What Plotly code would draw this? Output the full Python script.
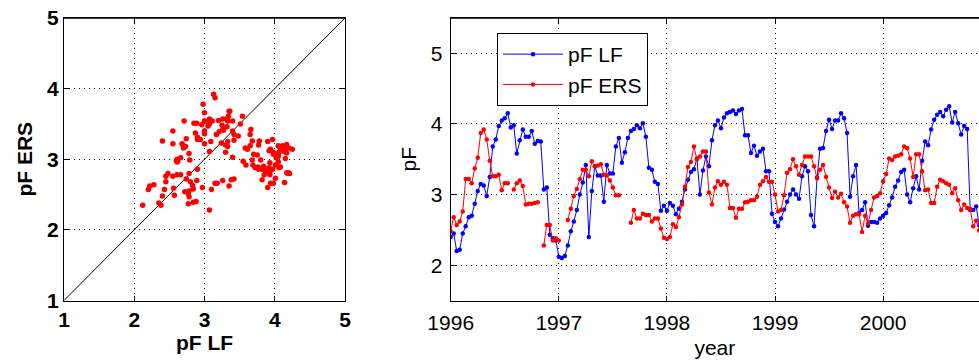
import plotly.graph_objects as go

# dekadal samples (36 per year) starting at 1996.0
start_year = 1996
steps_per_year = 36

pf_lf = [
    2.40, 2.45, 2.20, 2.22, 2.45, 2.55, 2.68, 2.70, 2.87, 3.05,
    3.15, 3.13, 2.98, 3.25, 3.68, 3.78, 3.97, 4.05, 4.08, 4.15,
    3.95, 3.98, 3.58, 3.77, 3.92, 3.82, 3.82, 3.90, 3.72, 3.76,
    3.75, 3.07, 3.10, 2.43, 2.38, 2.35, 2.12, 2.10, 2.13, 2.28,
    2.48, 2.62, 2.78, 3.00, 3.17, 3.42, 2.40, 3.05, 3.40, 3.27,
    3.27, 2.90, 3.42, 3.30, 3.30, 3.68, 3.80, 3.45, 3.60, 3.80,
    3.90, 3.93, 3.98, 3.94, 4.01, 3.82, 3.38, 3.35, 3.18, 3.15,
    2.77, 2.84, 2.77, 2.88, 2.84, 2.72, 2.80, 2.90, 3.07, 3.21,
    3.32, 3.36, 3.51, 3.00, 3.34, 3.54, 3.40, 3.77, 3.98, 4.05,
    3.94, 4.09, 4.15, 4.17, 4.19, 4.14, 4.19, 4.21, 3.84, 3.84,
    3.59, 3.69, 3.55, 3.61, 3.65, 3.33, 3.33, 2.73, 2.61, 2.55,
    2.66, 2.79, 2.90, 3.00, 3.07, 3.00, 2.94, 3.26, 3.40, 3.33,
    2.71, 2.55, 3.24, 3.65, 3.66, 3.90, 4.06, 3.93, 4.05, 4.05,
    4.15, 4.08, 3.87, 2.97, 3.26, 3.42, 2.74, 2.78, 2.89, 2.56,
    2.61, 2.61, 2.60, 2.66, 2.70, 2.74, 2.85, 2.96, 3.11, 3.20,
    3.32, 3.35, 3.00, 2.89, 3.09, 3.26, 3.07, 3.48, 3.75, 3.70,
    3.92, 4.06, 4.13, 4.17, 4.11, 4.20, 4.25, 4.02, 4.17, 4.01,
    3.85, 3.97, 3.93, 2.78, 2.78, 2.83, 2.57,
]

pf_ers = [
    2.48, 2.68, 2.57, 2.62, 2.76, 3.22, 3.22, 3.16, 3.37, 3.52,
    3.87, 3.92, 3.78, 3.48, 3.26, 3.26, 3.28, 3.06, 3.16, 3.16,
    None, 3.07, 3.16, 3.20, 3.12, 2.86, 2.87, 2.87, 2.88, 2.89,
    None, 2.28, 2.57, 2.57, 2.35, 2.38, 2.35, None, None, 2.64,
    2.80, 2.98, 3.08, 3.22, 3.35, 3.35, 3.26, 3.47, 3.40, 3.41,
    3.43, 3.28, 3.27, 3.20, 3.10, 2.99, 2.99, None, None, None,
    2.60, 2.78, 2.66, 2.66, 2.73, 2.71, 2.71, 2.62, 2.66, 2.66,
    2.52, 2.39, 2.37, 2.40, 2.58, 2.54, 2.68, 2.86, 3.11, 3.39,
    3.46, 3.68, 3.50, 3.54, 3.61, 3.61, 3.03, 2.86, 3.10, 3.19,
    3.14, 3.18, 3.14, 2.81, 2.81, 2.67, 2.80, 2.80, 2.89, 2.90,
    2.92, 2.92, 2.97, 3.14, 3.19, 3.25, 3.18, 3.18, 3.00, 2.76,
    2.78, 2.99, 3.31, 3.36, 3.50, 3.40, 3.28, 3.42, 3.54, 3.54,
    3.54, 3.40, 3.23, 3.35, 3.42, 3.25, 3.10, 2.95, 3.04, 2.96,
    3.01, 2.89, 2.83, 2.60, 2.70, 2.72, 2.72, 2.47, 2.70, 2.59,
    2.78, 2.96, 2.98, 3.02, 3.19, 3.29, 3.51, 3.49, 3.54, 3.55,
    3.57, 3.68, 3.66, 3.51, 3.25, 3.57, 3.57, 3.33, 3.06, 3.07,
    2.88, 2.88, 3.11, 3.21, 3.19, 3.16, 3.14, 3.02, 3.09, 2.92,
    2.78, 2.86, 2.81, 2.80, 2.55, 2.63, 2.49,
]

year_ticks = [1996, 1997, 1998, 1999, 2000]
year_labels = ["1996", "1997", "1998", "1999", "2000"]
pf_ticks_scatter = [1, 2, 3, 4, 5]
pf_ticks_series = [2, 3, 4, 5]
scatter_limits = [1, 5]

times = [start_year + k / steps_per_year for k in range(len(pf_lf))]
pairs = [(a, b) for a, b in zip(pf_lf, pf_ers) if a is not None and b is not None]
sc_x = [p[0] for p in pairs]
sc_y = [p[1] for p in pairs]

W, H = 979, 364


def px_x(v):
    return v / W


def px_y(v):
    return 1 - v / H


font_family = "Liberation Sans, Arial, sans-serif"
grid_dash = "1px,4px"

fig = go.Figure()

# left: scatter
fig.add_trace(go.Scatter(x=scatter_limits, y=scatter_limits, mode="lines",
                         line=dict(color="black", width=1), showlegend=False,
                         xaxis="x", yaxis="y", hoverinfo="skip"))
fig.add_trace(go.Scatter(x=sc_x, y=sc_y, mode="markers",
                         marker=dict(color="#ff0000", size=5.5, line=dict(width=0)),
                         showlegend=False, xaxis="x", yaxis="y"))

# right: time series
fig.add_trace(go.Scatter(x=times, y=pf_lf, mode="lines+markers", name="pF LF",
                         line=dict(color="#0000ff", width=1),
                         marker=dict(color="#0000ff", size=4.5),
                         xaxis="x2", yaxis="y2"))
fig.add_trace(go.Scatter(x=times, y=pf_ers, mode="lines+markers", name="pF ERS",
                         line=dict(color="#ff0000", width=1),
                         marker=dict(color="#ff0000", size=4.5),
                         connectgaps=False, xaxis="x2", yaxis="y2"))

left_dom = [px_x(64), px_x(345)]
right_dom = [px_x(450.7), 1.0]
ydom = [px_y(300.5), px_y(18)]

common_axis = dict(showline=True, linecolor="black", linewidth=1,
                   ticks="inside", ticklen=5, tickcolor="black",
                   showgrid=True, gridcolor="black", gridwidth=1, griddash=grid_dash,
                   zeroline=False, automargin=False)

bold = dict(family=font_family, size=21, color="black", weight="bold")
reg = dict(family=font_family, size=21, color="black")

# top edge of each panel drawn in paper coordinates (not clipped)
frame = dict(type="line", xref="paper", yref="paper",
             line=dict(color="black", width=1.3), layer="above")
fig.add_shape(x0=left_dom[0], x1=left_dom[1], y0=ydom[1], y1=ydom[1], **frame)
fig.add_shape(x0=right_dom[0], x1=right_dom[1], y0=ydom[1], y1=ydom[1], **frame)

fig.update_layout(
    width=W, height=H,
    margin=dict(l=0, r=0, t=0, b=0),
    paper_bgcolor="white", plot_bgcolor="white",
    font=reg,
    xaxis=dict(domain=left_dom, range=scatter_limits, tickvals=pf_ticks_scatter,
               mirror="ticks", tickfont=bold, anchor="y",
               title=dict(text="pF LF", font=bold, standoff=5), **common_axis),
    yaxis=dict(domain=ydom, range=scatter_limits, tickvals=pf_ticks_scatter,
               mirror="ticks", tickfont=bold, anchor="x",
               title=dict(text="pF ERS", font=bold, standoff=8), **common_axis),
    xaxis2=dict(domain=right_dom, range=[1996, 1996 + (W - 450.7) / 108.1],
                tickvals=year_ticks, ticktext=year_labels, mirror="ticks",
                tickfont=reg, anchor="y2", ticklabelstandoff=3,
                title=dict(text="year", font=reg, standoff=7), **common_axis),
    yaxis2=dict(domain=ydom, range=[1.5, 5.5], tickvals=pf_ticks_series,
                mirror=False, tickfont=reg, anchor="x2", ticklabelstandoff=3,
                title=dict(text="pF", font=reg, standoff=8), **common_axis),
    legend=dict(x=px_x(497), y=px_y(33), xanchor="left", yanchor="top",
                bgcolor="white", bordercolor="black", borderwidth=1,
                font=dict(family=font_family, size=21, color="black"),
                itemwidth=60, tracegroupgap=0),
)

fig.write_html(
    "out.html",
    config={"displayModeBar": False},
    post_script="document.body.style.margin='0';document.body.style.overflow='hidden';",
)
